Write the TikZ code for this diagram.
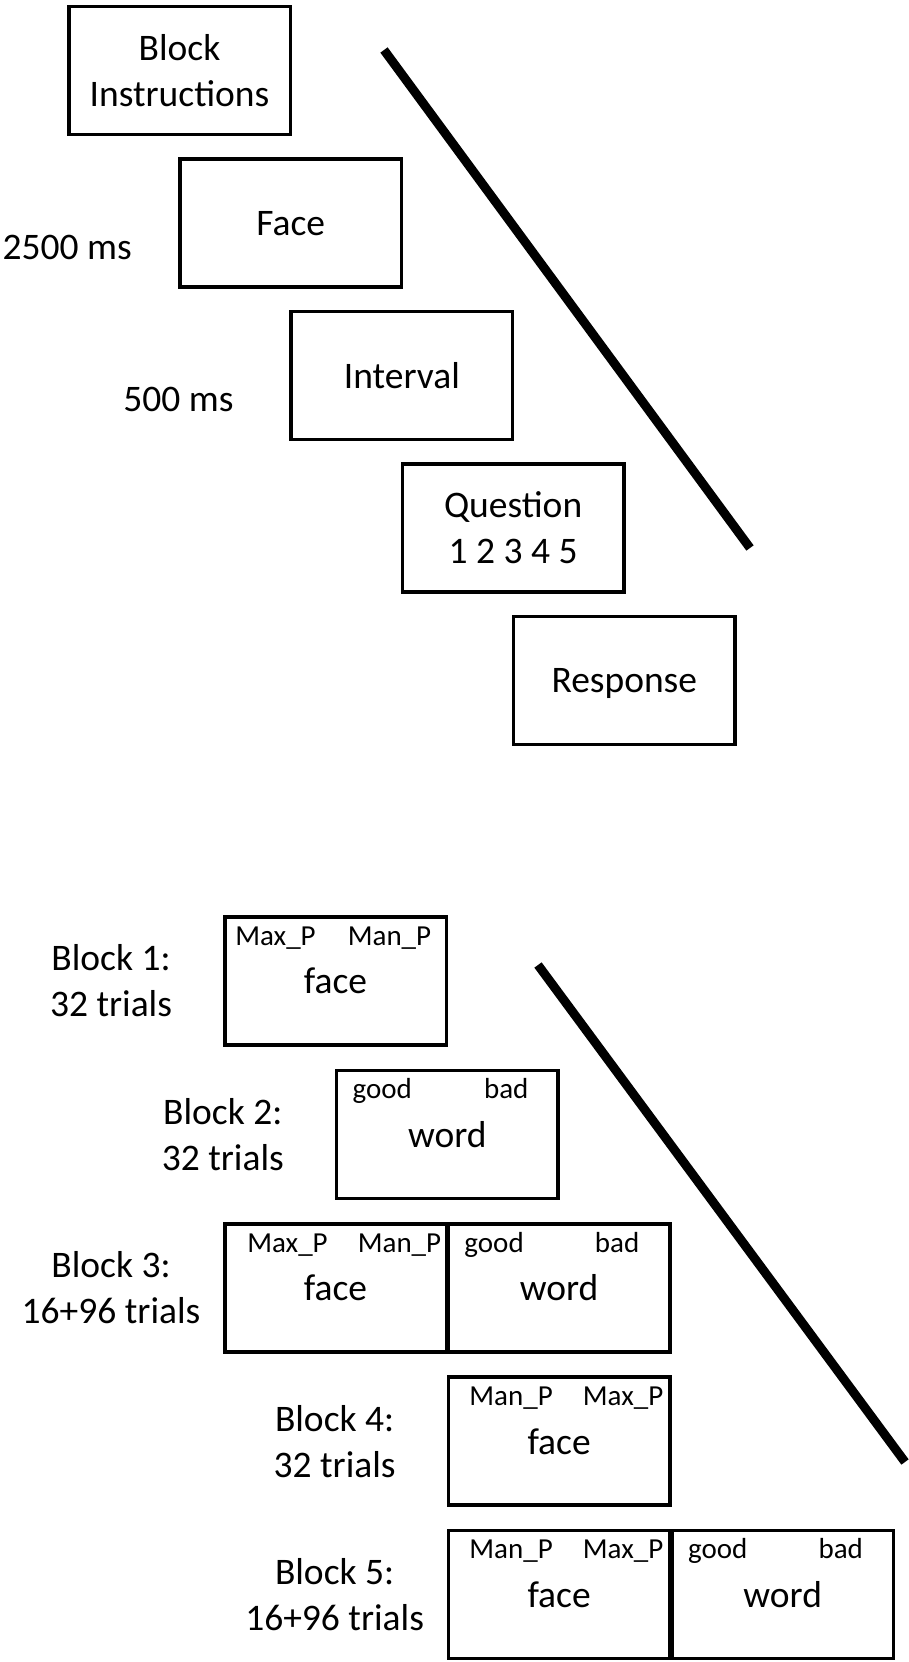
\documentclass[tikz,border=0pt]{standalone}
\usepackage{fontspec}
\setmainfont{Carlito}
\usetikzlibrary{calc}

\tikzset{
  screen/.style={draw, line width=3.5pt, minimum width=221.5pt, minimum height=128pt,
    inner sep=0pt, align=center, text depth=0pt, font=\fontsize{37.5}{46}\selectfont},
  keylbl/.style={anchor=base, inner sep=0pt, font=\fontsize{29}{34}\selectfont},
  blocklbl/.style={align=center, inner sep=0pt, font=\fontsize{37.5}{46}\selectfont},
  timelbl/.style={anchor=base, inner sep=0pt, font=\fontsize{37.5}{46}\selectfont},
  timeline/.style={line width=9pt}
}

\begin{document}
\begin{tikzpicture}[x=1pt, y=-1pt]
  \useasboundingbox (0,0) rectangle (908,1662);
  % trial sequence
  \foreach \i/\name/\txt in {
    0/instr/{Block\\Instructions},
    1/face/Face,
    2/interval/Interval,
    3/question/{Question\\1 2 3 4 5},
    4/response/Response} {
    \node[screen] (\name) at (179.5+111.2*\i, 70.5+152.5*\i) {\txt};
  }
  \node[timelbl] (t2500) at ($(face.west)+(-111,36)$) {2500 ms};
  \node[timelbl] (t500) at ($(interval.west)+(-111,36)$) {500 ms};
  \coordinate (top1) at (384,50);
  \coordinate (top2) at (750,548);
  \draw[timeline] (top1) -- (top2);

  % blocks
  \foreach \n/\i/\j/\txt in {
    b1f/0/0/face, b2w/1/1/word,
    b3f/0/2/face, b3w/2/2/word,
    b4f/2/3/face,
    b5f/2/4/face, b5w/4/4/word} {
    \node[screen] (\n) at (335.5+111.8*\i, 981+153.4*\j) {\txt};
  }
  \foreach \n/\l/\dl/\r/\dr in {
    b1f/Max\_P/-60/Man\_P/54, b2w/good/-65/bad/59,
    b3f/Max\_P/-48/Man\_P/64, b3w/good/-65/bad/58,
    b4f/Man\_P/-48/Max\_P/64,
    b5f/Man\_P/-48/Max\_P/64, b5w/good/-65/bad/58} {
    \node[keylbl] (\n-l) at ($(\n.north)+(\dl,30)$) {\l};
    \node[keylbl] (\n-r) at ($(\n.north)+(\dr,30)$) {\r};
  }
  \foreach \n/\txt in {
    b1f/{Block 1:\\32 trials}, b2w/{Block 2:\\32 trials},
    b3f/{Block 3:\\16+96 trials}, b4f/{Block 4:\\32 trials},
    b5f/{Block 5:\\16+96 trials}} {
    \node[blocklbl] (\n-name) at ($(\n.west)+(-112,0)$) {\txt};
  }
  \coordinate (bot1) at (538,965);
  \coordinate (bot2) at (905,1462);
  \draw[timeline] (bot1) -- (bot2);
\end{tikzpicture}
\end{document}
